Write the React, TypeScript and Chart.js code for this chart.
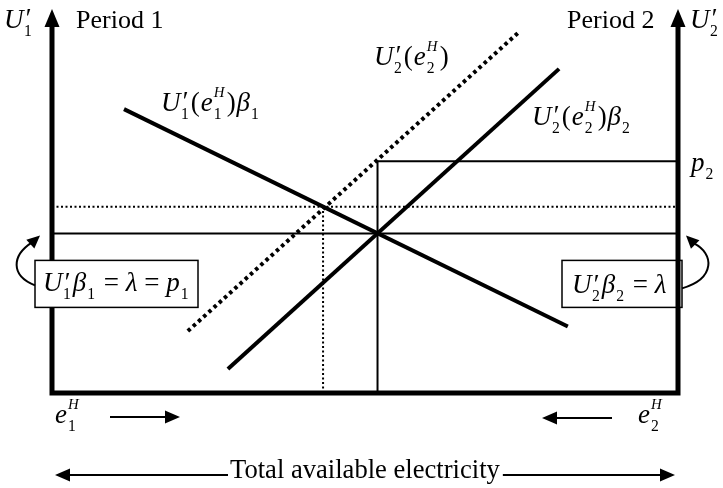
import React, { useEffect, useRef } from "react";
import { Chart, registerables } from "chart.js";

Chart.register(...registerables);

// ---- data (diagram units: 0..100 on both axes) ----
const xRange = [0, 100];
const yRange = [0, 100];
const lambdaLevel = 42; // U1'β1 = λ = p1
const dottedLevel = 49; // undiscounted intersection level
const p2Level = 61; // p2
const eqAlloc = 52; // equilibrium split
const altAlloc = 43.3; // alternative split (dotted)
const demand1X = [11.5, 82.4]; // U1'(e1H)β1
const demand1Y = [74.7, 17.5];
const demand2X = [28.1, 81]; // U2'(e2H)β2
const demand2Y = [6.3, 85.3];
const undiscX = [21.7, 74.6]; // U2'(e2H)
const undiscY = [16.3, 95.0];

const FONT = '"Liberation Serif", "Times New Roman", serif';

type Seg = { t: string; it?: boolean; s?: number; dy?: number; na?: boolean; gap?: number };

function rich(ctx: CanvasRenderingContext2D, x: number, y: number, segs: Seg[], base: number, sx = 1) {
  ctx.save();
  ctx.translate(x, y);
  ctx.scale(sx, 1);
  ctx.textBaseline = "alphabetic";
  ctx.textAlign = "left";
  ctx.fillStyle = "#000";
  let cx = 0;
  for (const g of segs) {
    const size = base * (g.s ?? 1);
    ctx.font = `${g.it ? "italic " : ""}${size}px ${FONT}`;
    ctx.fillText(g.t, cx, (g.dy ?? 0) * base);
    if (!g.na) cx += ctx.measureText(g.t).width + (g.gap ?? 0);
  }
  ctx.restore();
  return cx * sx;
}

const Ui: Seg = { t: "U", it: true, gap: 0.5 };
const prime: Seg = { t: "′", it: true, na: true, dy: -0.02 };
const sub = (n: string): Seg => ({ t: n, s: 0.58, dy: 0.28, gap: 2 });
const supH: Seg = { t: "H", it: true, s: 0.55, dy: -0.52, na: true };
const eI: Seg = { t: "e", it: true, gap: 1 };
const beta: Seg = { t: "β", it: true, gap: 1 };
const lam: Seg = { t: "λ", it: true };
const pI: Seg = { t: "p", it: true, gap: 1 };
const lp: Seg = { t: "(", gap: 1 };
const rp: Seg = { t: ")", gap: 1 };

function arrowHead(ctx: CanvasRenderingContext2D, fx: number, fy: number, tx: number, ty: number, len: number, hw: number) {
  const a = Math.atan2(ty - fy, tx - fx);
  const bx = tx - len * Math.cos(a);
  const by = ty - len * Math.sin(a);
  ctx.beginPath();
  ctx.moveTo(tx, ty);
  ctx.lineTo(bx + hw * Math.sin(a), by - hw * Math.cos(a));
  ctx.lineTo(bx - hw * Math.sin(a), by + hw * Math.cos(a));
  ctx.closePath();
  ctx.fill();
}

const overlay = {
  id: "overlay",
  afterDatasetsDraw(chart: any) {
    const ctx: CanvasRenderingContext2D = chart.ctx;
    const xs = chart.scales.x;
    const ys = chart.scales.y;
    const L = xs.getPixelForValue(xRange[0]);
    const R = xs.getPixelForValue(xRange[1]);
    const B = ys.getPixelForValue(yRange[0]);
    const T = ys.getPixelForValue(yRange[1]);
    const lamY = ys.getPixelForValue(lambdaLevel);
    const p2Y = ys.getPixelForValue(p2Level);
    ctx.save();
    ctx.fillStyle = "#000";
    ctx.strokeStyle = "#000";

    // right box (under axis)
    const boxTop = lamY + 27;
    const boxH = 47;
    ctx.fillStyle = "#fff";
    ctx.fillRect(R - 116, boxTop, 120, boxH);
    ctx.lineWidth = 1.5;
    ctx.strokeRect(R - 116, boxTop, 120, boxH);
    ctx.fillStyle = "#000";

    // axes
    ctx.lineWidth = 5;
    ctx.lineCap = "butt";
    ctx.beginPath();
    ctx.moveTo(L, B + 2.5);
    ctx.lineTo(L, T + 12);
    ctx.moveTo(R, B + 2.5);
    ctx.lineTo(R, T + 12);
    ctx.moveTo(L - 2.5, B);
    ctx.lineTo(R + 2.5, B);
    ctx.stroke();
    arrowHead(ctx, L, T + 20, L, T - 4, 18, 7.5);
    arrowHead(ctx, R, T + 20, R, T - 4, 18, 7.5);

    // left box (covers axis)
    ctx.fillStyle = "#fff";
    ctx.fillRect(L - 17, boxTop, 163, boxH);
    ctx.lineWidth = 1.5;
    ctx.strokeRect(L - 17, boxTop, 163, boxH);
    ctx.fillStyle = "#000";

    // curved arrows
    ctx.lineWidth = 2;
    ctx.beginPath();
    ctx.moveTo(L - 17, lamY + 52);
    ctx.bezierCurveTo(L - 42, lamY + 42, L - 40, lamY + 22, L - 20, lamY + 9);
    ctx.stroke();
    arrowHead(ctx, L - 22, lamY + 11, L - 12, lamY + 2, 13, 6);
    ctx.beginPath();
    ctx.moveTo(R + 4, lamY + 55);
    ctx.bezierCurveTo(R + 38, lamY + 45, R + 36, lamY + 20, R + 16, lamY + 10);
    ctx.stroke();
    arrowHead(ctx, R + 18, lamY + 12, R + 8, lamY + 2, 13, 6);

    const M = 27; // math font size
    const TXT = 26;
    // top labels
    rich(ctx, L - 48, T + 15, [Ui, prime, sub("1")], M);
    rich(ctx, L + 24, T + 15, [{ t: "Period 1" }], TXT);
    rich(ctx, R - 111, T + 15, [{ t: "Period 2" }], TXT);
    rich(ctx, R + 12, T + 15, [Ui, prime, sub("2")], M);
    rich(ctx, R + 13, p2Y + 10, [pI, sub("2")], M);

    // curve labels
    rich(ctx, L + 109, T + 98, [Ui, prime, sub("1"), lp, eI, supH, { ...sub("1"), gap: 5 }, rp, beta, sub("1")], M);
    rich(ctx, L + 322, T + 52, [Ui, prime, sub("2"), lp, eI, supH, { ...sub("2"), gap: 5 }, rp], M);
    rich(ctx, L + 480, T + 112, [Ui, prime, sub("2"), lp, eI, supH, { ...sub("2"), gap: 5 }, rp, beta, sub("2")], M);

    // box texts
    rich(ctx, L - 9, lamY + 58, [Ui, prime, sub("1"), beta, sub("1"), { t: " = " }, lam, { t: " = " }, pI, sub("1")], M);
    rich(ctx, R - 106, lamY + 60, [Ui, prime, sub("2"), beta, sub("2"), { t: " = " }, lam], M);

    // bottom labels
    rich(ctx, L + 3, B + 30, [eI, supH, sub("1")], M);
    rich(ctx, R - 40, B + 30, [eI, supH, sub("2")], M);
    ctx.lineWidth = 2;
    ctx.beginPath();
    ctx.moveTo(L + 58, B + 24);
    ctx.lineTo(L + 118, B + 24);
    ctx.moveTo(R - 124, B + 25);
    ctx.lineTo(R - 66, B + 25);
    ctx.stroke();
    arrowHead(ctx, L + 58, B + 24, L + 128, B + 24, 15, 6.5);
    arrowHead(ctx, R - 66, B + 25, R - 136, B + 25, 15, 6.5);

    const ty = B + 85;
    const tx = L + 178;
    const w = rich(ctx, tx, ty, [{ t: "Total available electricity" }], 26.6);
    ctx.beginPath();
    ctx.moveTo(L + 12, B + 82);
    ctx.lineTo(tx - 2, B + 82);
    ctx.moveTo(tx + w + 3, B + 82);
    ctx.lineTo(R - 12, B + 82);
    ctx.stroke();
    arrowHead(ctx, tx, B + 82, L + 3, B + 82, 15, 6.5);
    arrowHead(ctx, tx + w, B + 82, R - 3, B + 82, 15, 6.5);

    ctx.restore();
  },
};

const seg = (xa: number[], ya: number[]) => xa.map((x, i) => ({ x, y: ya[i] }));

export default function App() {
  const ref = useRef<HTMLCanvasElement | null>(null);
  useEffect(() => {
    if (!ref.current) return;
    const base = { showLine: true, pointRadius: 0, borderColor: "#000", backgroundColor: "#000", clip: false as any, fill: false };
    const chart = new Chart(ref.current, {
      type: "scatter",
      data: {
        datasets: [
          { ...base, label: "λ", data: seg([xRange[0], xRange[1]], [lambdaLevel, lambdaLevel]), borderWidth: 2 },
          { ...base, label: "dotted level", data: seg([xRange[0], xRange[1]], [dottedLevel, dottedLevel]), borderWidth: 2, borderDash: [2, 2.5] },
          { ...base, label: "p2", data: seg([eqAlloc, xRange[1]], [p2Level, p2Level]), borderWidth: 2 },
          { ...base, label: "split", data: seg([eqAlloc, eqAlloc], [yRange[0], p2Level]), borderWidth: 2 },
          { ...base, label: "alt split", data: seg([altAlloc, altAlloc], [yRange[0], dottedLevel]), borderWidth: 2, borderDash: [2, 2.5] },
          { ...base, label: "U2'(e2H)", data: seg(undiscX, undiscY), borderWidth: 4, borderDash: [3.5, 3.5] },
          { ...base, label: "U1'(e1H)β1", data: seg(demand1X, demand1Y), borderWidth: 4 },
          { ...base, label: "U2'(e2H)β2", data: seg(demand2X, demand2Y), borderWidth: 4 },
        ],
      },
      options: {
        animation: false,
        responsive: true,
        maintainAspectRatio: false,
        layout: { padding: { left: 52, right: 45, top: 13, bottom: 95 } },
        scales: {
          x: { type: "linear", min: xRange[0], max: xRange[1], display: false },
          y: { type: "linear", min: yRange[0], max: yRange[1], display: false },
        },
        plugins: { legend: { display: false }, tooltip: { enabled: false } },
      },
      plugins: [overlay],
    });
    let alive = true;
    const fs: any = (document as any).fonts;
    if (fs && fs.load) {
      Promise.all([fs.load('20px "Liberation Serif"'), fs.load('italic 20px "Liberation Serif"')])
        .catch(() => null)
        .then(() => {
          if (alive) chart.draw();
        });
    }
    return () => {
      alive = false;
      chart.destroy();
    };
  }, []);
  return (
    <div style={{ position: "absolute", left: 0, top: 0, width: 723, height: 488, background: "#fff" }}>
      <canvas ref={ref} />
    </div>
  );
}
